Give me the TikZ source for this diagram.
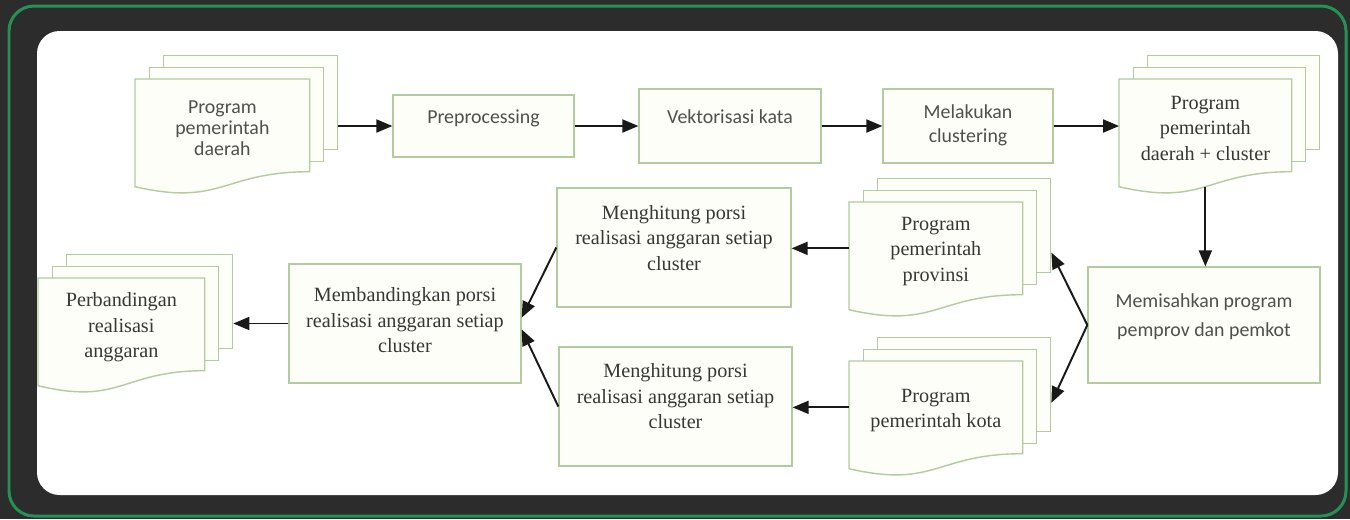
\documentclass[tikz,border=0pt]{standalone}
\usepackage{fontspec}
\setmainfont{Liberation Serif}
\newfontfamily\calfont{Carlito}
\newfontfamily\timesfont{Liberation Serif}
\usetikzlibrary{arrows}

\definecolor{darkbg}{RGB}{44,44,44}
\definecolor{framegreen}{RGB}{38,145,85}
\definecolor{boxline}{RGB}{180,202,160}
\definecolor{boxfill}{RGB}{253,254,247}
\definecolor{serifgray}{RGB}{55,55,55}
\definecolor{sansgray}{RGB}{80,80,80}
\definecolor{arrowblack}{RGB}{25,25,25}

\tikzset{
  sheet/.style={draw=boxline, fill=boxfill, line width=0.8pt},
  box/.style={sheet, rectangle, inner sep=0pt},
  sanstext/.style={align=center, text=sansgray, font=\calfont\fontsize{11.3}{13.5}\selectfont},
  seriftext/.style={align=center, text=serifgray, font=\timesfont\fontsize{11.5}{14.5}\selectfont},
}

% stack of three pages: name, x, y (top left of front page), width, text style, text
\newcommand{\docstack}[6]{%
  \node[box, anchor=north west, minimum width=#4, minimum height=1.88cm] (#1-b) at (#2+0.56,#3+0.48) {};
  \node[box, anchor=north west, minimum width=#4, minimum height=1.88cm] (#1-m) at (#2+0.28,#3+0.24) {};
  \node[anchor=north west, inner sep=0pt, minimum width=#4, minimum height=1.84cm] (#1) at (#2,#3) {};
  \filldraw[sheet] (#1.north west) -- (#1.north east) -- (#1.south east)
    .. controls (#1.south) and ([yshift=-0.7cm]#1.south) .. ([yshift=-0.3cm]#1.south west) -- cycle;
  \coordinate (#1-foot) at ([yshift=-0.3cm]#1.south);
  \node[#5] (#1-t) at ([yshift=-0.06cm]#1.center) {#6};
}

\begin{document}
\begin{tikzpicture}[>=triangle 45,
                    flow/.style={->, draw=arrowblack, line width=1.1pt}]

  \useasboundingbox (0,0) rectangle (27,-10.38);
  \fill[darkbg] (0,0) rectangle (27,-10.38);
  \draw[framegreen, line width=1.7pt, rounded corners=0.5cm] (0.18,-0.12) rectangle (26.92,-10.32);
  \fill[white, rounded corners=0.45cm] (0.74,-0.62) rectangle (26.76,-9.9);

  % top row
  \docstack{daerah}{2.7}{-1.58}{3.48cm}{sanstext, font=\calfont\fontsize{11.3}{12}\selectfont}{Program\\pemerintah\\daerah}

  \node[box, minimum width=3.62cm, minimum height=1.24cm] (prep) at (9.67,-2.52) {};
  \node[sanstext] (prep-t) at ([yshift=0.16cm]prep.center) {Preprocessing};

  \node[box, minimum width=3.64cm, minimum height=1.48cm] (vekt) at (14.6,-2.52) {};
  \node[sanstext] (vekt-t) at ([yshift=0.18cm]vekt.center) {Vektorisasi kata};

  \node[box, minimum width=3.4cm, minimum height=1.48cm] (clus) at (19.36,-2.52) {};
  \node[sanstext] (clus-t) at ([yshift=0.02cm]clus.center) {Melakukan\\clustering};

  \docstack{cluster}{22.38}{-1.58}{3.44cm}{seriftext}{Program\\pemerintah\\daerah + cluster}

  % right column
  \node[box, minimum width=4.64cm, minimum height=2.32cm] (pisah) at (24.08,-6.5) {};
  \node[sanstext, font=\calfont\fontsize{11.3}{16.5}\selectfont] (pisah-t) at ([yshift=0.16cm]pisah.center)
    {Memisahkan program\\pemprov dan pemkot};

  \docstack{prov}{16.98}{-4.04}{3.46cm}{seriftext}{Program\\pemerintah\\provinsi}
  \docstack{kota}{16.98}{-7.22}{3.46cm}{seriftext}{Program\\pemerintah kota}

  % middle and left
  \node[box, minimum width=4.68cm, minimum height=2.38cm] (hit1) at (13.48,-4.95) {};
  \node[seriftext] (hit1-t) at ([yshift=0.19cm]hit1.center) {Menghitung porsi\\realisasi anggaran setiap\\cluster};

  \node[box, minimum width=4.66cm, minimum height=2.38cm] (hit2) at (13.51,-8.13) {};
  \node[seriftext] (hit2-t) at ([yshift=0.2cm]hit2.center) {Menghitung porsi\\realisasi anggaran setiap\\cluster};

  \node[box, minimum width=4.64cm, minimum height=2.38cm] (banding) at (8.1,-6.47) {};
  \node[seriftext] (banding-t) at ([yshift=0.06cm]banding.center) {Membandingkan porsi\\realisasi anggaran setiap\\cluster};

  \docstack{perb}{0.76}{-5.56}{3.32cm}{seriftext}{Perbandingan\\realisasi\\anggaran}

  % connectors
  \draw[flow] (prep.west -| daerah-b.east) -- (prep.west);
  \draw[flow] (prep) -- (vekt);
  \draw[flow] (vekt) -- (clus);
  \draw[flow] (clus.east) -- (clus.east -| cluster.west);
  \draw[flow] (cluster-foot) -- (cluster-foot |- pisah.north);
  \draw[flow] (pisah.west) -- ([yshift=-0.54cm]prov-b.east);
  \draw[flow] (pisah.west) -- ([yshift=-0.36cm]kota-b.east);
  \draw[flow] (prov.west) -- (prov.west -| hit1.east);
  \draw[flow] (kota.west) -- (kota.west -| hit2.east);
  \draw[flow] (hit1.west) -- ([yshift=0.12cm]banding.east);
  \draw[flow] (hit2.west) -- ([yshift=-0.12cm]banding.east);
  \draw[flow] (banding.west) -- (banding.west -| perb-b.east);
\end{tikzpicture}
\end{document}
